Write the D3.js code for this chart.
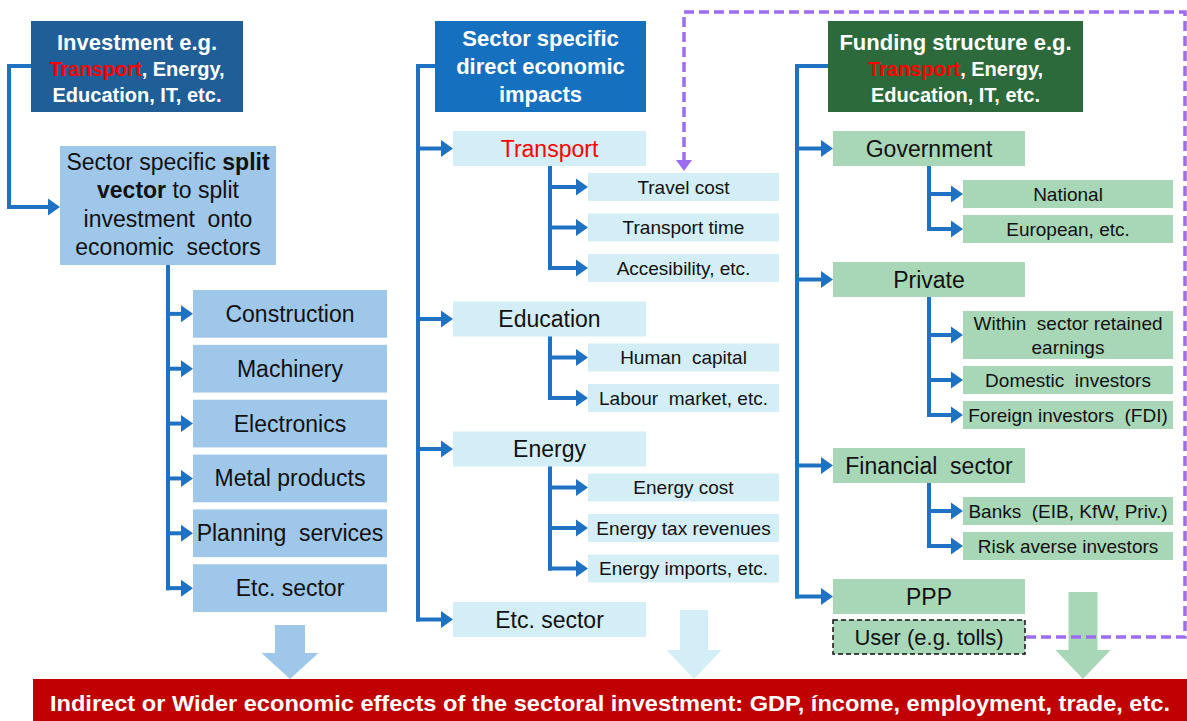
<!DOCTYPE html>
<html>
<head>
<meta charset="utf-8">
<script src="https://cdn.jsdelivr.net/npm/d3@7"></script>
<style>
    body { margin: 0; background: #fff; }
    svg text { font-family: "Liberation Sans", Arial, sans-serif; white-space: pre; }
</style>
</head>
<body>
<div id="chart"></div>
<script>
(function () {
    // ---- content ----
    var investHeader = ["Investment e.g.", "Transport, Energy,", "Education, IT, etc."];
    var splitVector = ["Sector specific *split*", "*vector* to split", "investment  onto", "economic  sectors"];
    var investSectors = ["Construction", "Machinery", "Electronics", "Metal products", "Planning  services", "Etc. sector"];

    var impactHeader = ["Sector specific", "direct economic", "impacts"];
    var impactSectors = ["Transport", "Education", "Energy", "Etc. sector"];
    var transportImpacts = ["Travel cost", "Transport time", "Accesibility, etc."];
    var educationImpacts = ["Human  capital", "Labour  market, etc."];
    var energyImpacts = ["Energy cost", "Energy tax revenues", "Energy imports, etc."];

    var fundingHeader = ["Funding structure e.g.", "Transport, Energy,", "Education, IT, etc."];
    var fundingSources = ["Government", "Private", "Financial  sector", "PPP"];
    var governmentFunds = ["National", "European, etc."];
    var privateFunds = ["Within  sector retained|earnings", "Domestic  investors", "Foreign investors  (FDI)"];
    var financialFunds = ["Banks  (EIB, KfW, Priv.)", "Risk averse investors"];
    var userFunding = "User (e.g. tolls)";

    var wideEffects = "Indirect or Wider economic effects of the sectoral investment: GDP, íncome, employment, trade, etc.";

    // ---- styles ----
    var width = 1187, height = 721;
    var blue = "#1f72c1", purple = "#9c6cf3", red = "#ff0000";
    var colors = {
        investHead: "#1f5e96", impactHead: "#1670c0", fundHead: "#2c6a3b",
        investBox: "#9fc7ea", impactBox: "#d3eef6", fundBox: "#a8d7b7",
        bar: "#c00000"
    };

    var svg = d3.select("#chart").append("svg")
        .attr("width", width)
        .attr("height", height);

    // draw text lines centred on (cx, cy); *word* = bold, leading "Transport" can be red
    function addText(g, lines, cx, cy, o) {
        var n = lines.length;
        lines.forEach(function (line, i) {
            var size = (i == 0 && o.firstSize) ? o.firstSize : o.size;
            var t = g.append("text")
                .attr("x", cx)
                .attr("y", cy + (i - (n - 1) / 2) * o.lineH)
                .attr("dy", "0.35em")
                .attr("text-anchor", "middle")
                .attr("font-size", size + "px")
                .attr("font-weight", o.weight || "normal")
                .attr("fill", o.color || "#111");
            var rest = line;
            if (o.highlight && line.indexOf("Transport") == 0) {
                t.append("tspan").attr("fill", red).text("Transport");
                rest = line.slice(9);
            }
            rest.split("*").forEach(function (seg, k) {
                if (seg == "") return;
                t.append("tspan").attr("font-weight", k % 2 ? "bold" : null).text(seg);
            });
            if (o.maxW && t.node().getComputedTextLength() > o.maxW) {
                t.attr("textLength", o.maxW).attr("lengthAdjust", "spacingAndGlyphs");
            }
        });
    }

    function box(x, y, w, h, fill, lines, o) {
        var g = svg.append("g");
        g.append("rect").attr("x", x).attr("y", y).attr("width", w).attr("height", h).attr("fill", fill);
        o.maxW = w - 4;
        addText(g, lines, x + w / 2, y + h / 2 + (o.shift || 0), o);
        return g;
    }

    var lines = svg.append("g").attr("fill", "none").attr("stroke", blue)
        .attr("stroke-width", 4).attr("stroke-linecap", "square");
    var heads = svg.append("g").attr("fill", blue);

    function seg(pts) {
        lines.append("path").attr("d", d3.line()(pts));
    }
    function arrowTo(x0, x1, y) {
        seg([[x0, y], [x1 - 10, y]]);
        heads.append("path").attr("d", d3.line()([[x1 - 12, y - 8.5], [x1, y], [x1 - 12, y + 8.5]]) + "Z");
    }

    // headers
    var headY = 21, headH = 91;
    box(31, headY, 212, headH, colors.investHead, investHeader,
        { size: 20, firstSize: 22, weight: "bold", color: "#fff", lineH: 26, shift: 2, highlight: true });
    box(435, headY, 211, headH, colors.impactHead, impactHeader,
        { size: 22, weight: "bold", color: "#fff", lineH: 28, shift: 0 });
    box(828, headY, 255, headH, colors.fundHead, fundingHeader,
        { size: 20, firstSize: 22, weight: "bold", color: "#fff", lineH: 26, shift: 2, highlight: true });

    // ---- left column ----
    var headMid = headY + headH / 2 - 0.5;
    seg([[31, headMid], [9, headMid], [9, 207]]);
    arrowTo(9, 60, 207);
    box(60, 146, 216, 119, colors.investBox, splitVector, { size: 23, lineH: 28.5, shift: -1 });

    var yLeft = d3.scaleBand().domain(investSectors).range([290, 612]).paddingInner(0.13).paddingOuter(0);
    seg([[168, 265], [168, yLeft(investSectors[investSectors.length - 1]) + yLeft.bandwidth() / 2]]);
    investSectors.forEach(function (s) {
        var cy = yLeft(s) + yLeft.bandwidth() / 2;
        arrowTo(168, 193, cy);
        box(193, yLeft(s), 194, yLeft.bandwidth(), colors.investBox, [s], { size: 23, lineH: 24 });
    });

    // ---- tree columns ----
    function treeColumn(c) {
        var y = c.top, lastMid = 0;
        c.parents.forEach(function (p, i) {
            var cy = y + c.parentH / 2;
            lastMid = cy;
            arrowTo(c.trunkX, c.parentX, cy);
            box(c.parentX, y, c.parentW, c.parentH, c.fill, [p.label],
                { size: 23, lineH: 24, color: p.red ? red : "#111" });
            y += c.parentH;
            if (p.children && p.children.length) {
                var top = y;
                y += c.parentToSub;
                var lastCy = 0;
                p.children.forEach(function (ch) {
                    var parts = ch.split("|");
                    var h = c.childH + (parts.length - 1) * 20;
                    lastCy = y + h / 2;
                    arrowTo(c.subX, c.childX, lastCy);
                    box(c.childX, y, c.childW, h, c.fill, parts, { size: 19, lineH: 24 });
                    y += h + c.subGap;
                });
                seg([[c.subX, top], [c.subX, lastCy]]);
                y += c.subToParent - c.subGap;
            } else {
                y += c.subToParent;
            }
        });
        seg([[c.headX, headMid], [c.trunkX, headMid], [c.trunkX, lastMid]]);
        return y;
    }

    treeColumn({
        top: 131, headX: 435, trunkX: 418, parentX: 453, parentW: 193, parentH: 35,
        subX: 550, childX: 588, childW: 191, childH: 28,
        parentToSub: 7, subGap: 12.5, subToParent: 19.5, fill: colors.impactBox,
        parents: [
            { label: impactSectors[0], children: transportImpacts, red: true },
            { label: impactSectors[1], children: educationImpacts },
            { label: impactSectors[2], children: energyImpacts },
            { label: impactSectors[3] }
        ]
    });

    var fundEnd = treeColumn({
        top: 131, headX: 828, trunkX: 797, parentX: 833, parentW: 192, parentH: 35,
        subX: 929, childX: 963, childW: 210, childH: 28,
        parentToSub: 14, subGap: 7, subToParent: 19, fill: colors.fundBox,
        parents: [
            { label: fundingSources[0], children: governmentFunds },
            { label: fundingSources[1], children: privateFunds },
            { label: fundingSources[2], children: financialFunds },
            { label: fundingSources[3] }
        ]
    });

    // user box (dashed)
    var userY = fundEnd - 13;
    var ug = box(833, userY, 192, 34, colors.fundBox, [userFunding], { size: 22, lineH: 24 });
    ug.select("rect").attr("stroke", "#111").attr("stroke-width", 1.5).attr("stroke-dasharray", "5,3");

    // ---- big down arrows ----
    function bigArrow(cx, top, shaftW, headW, headTop, tip, fill) {
        var pts = [[cx - shaftW / 2, top], [cx + shaftW / 2, top], [cx + shaftW / 2, headTop], [cx + headW / 2, headTop],
            [cx, tip], [cx - headW / 2, headTop], [cx - shaftW / 2, headTop]];
        svg.append("path").attr("d", d3.line()(pts) + "Z").attr("fill", fill);
    }
    bigArrow(290, 625, 30, 57, 653, 679, colors.investBox);
    bigArrow(694, 610, 28, 55, 650, 679, colors.impactBox);
    bigArrow(1083, 592, 29, 55, 650, 679, colors.fundBox);

    // ---- purple feedback loop ----
    var userMid = userY + 17;
    svg.append("path")
        .attr("d", d3.line()([[1026, userMid], [1185, userMid], [1185, 12], [684, 12], [684, 160]]))
        .attr("fill", "none").attr("stroke", purple).attr("stroke-width", 3.5)
        .attr("stroke-dasharray", "10,5");
    svg.append("path")
        .attr("d", d3.line()([[676, 160], [692, 160], [684, 171]]) + "Z")
        .attr("fill", purple);

    // ---- bottom bar ----
    svg.append("rect").attr("x", 33).attr("y", 679).attr("width", width - 33).attr("height", 42).attr("fill", colors.bar);
    svg.append("text")
        .attr("x", 610).attr("y", 711)
        .attr("text-anchor", "middle")
        .attr("font-size", "22px").attr("font-weight", "bold").attr("fill", "#fff")
        .attr("textLength", 1120).attr("lengthAdjust", "spacingAndGlyphs")
        .text(wideEffects);
})();
</script>
</body>
</html>
